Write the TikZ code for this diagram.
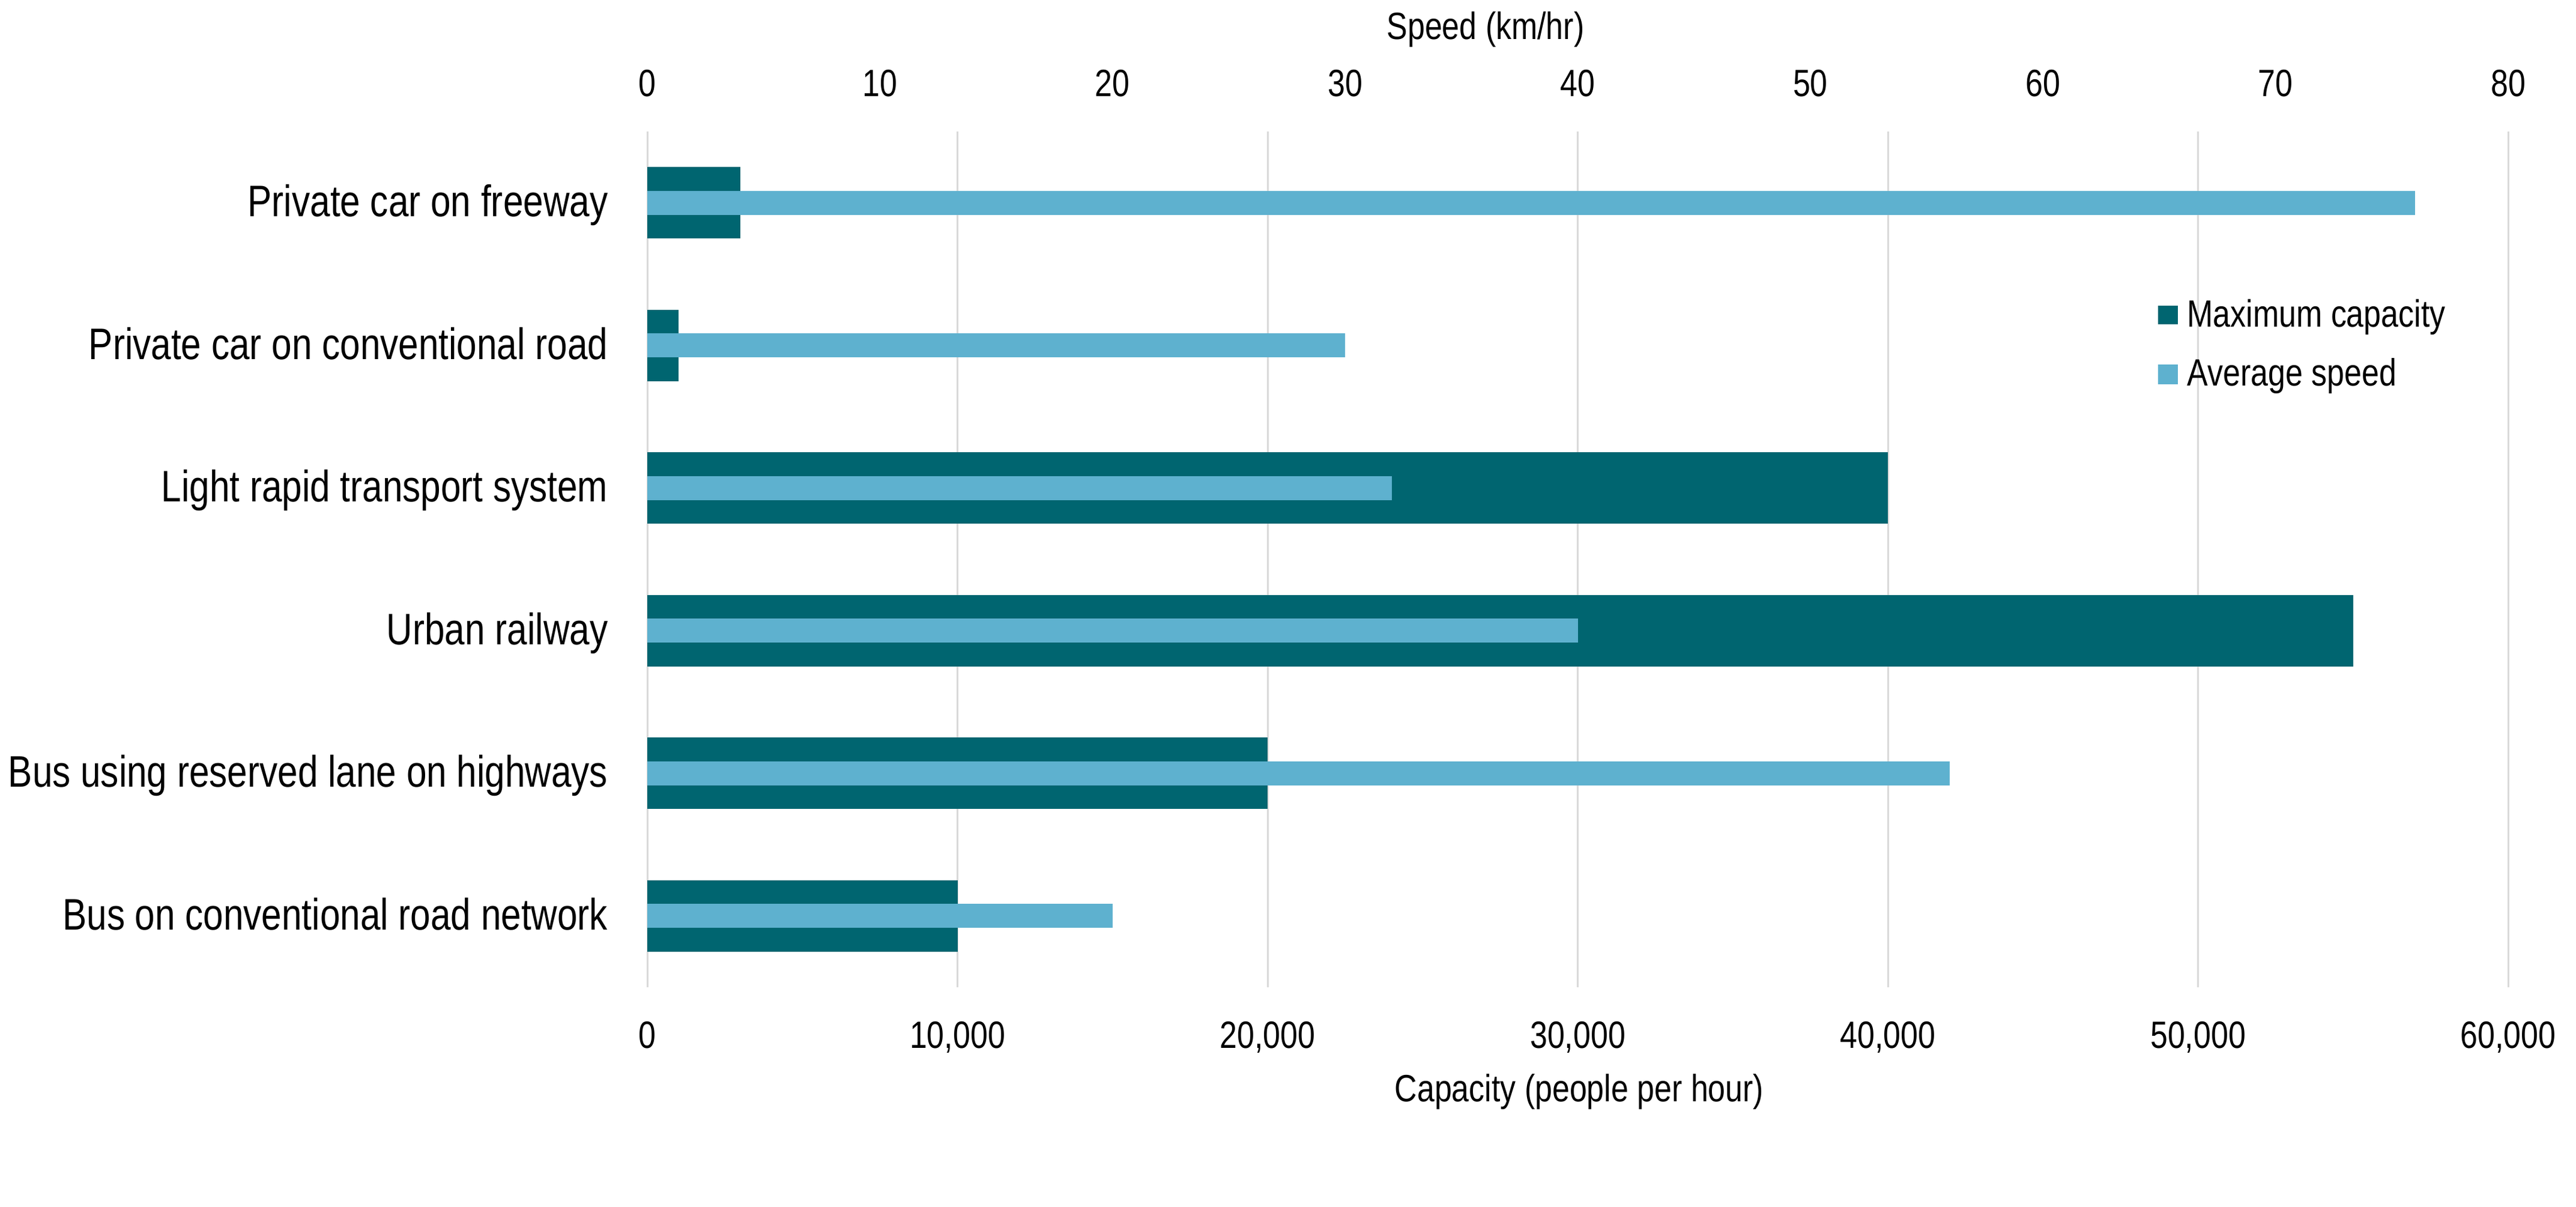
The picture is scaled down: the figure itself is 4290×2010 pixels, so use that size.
\documentclass[tikz,border=0pt]{standalone}
\usepackage{fontspec}
\setmainfont{Liberation Sans}[FakeStretch=0.82]
\definecolor{capteal}{HTML}{006570}
\definecolor{spdblue}{HTML}{5EB1CF}
\definecolor{gridgray}{HTML}{D9D9D9}
\tikzset{
	gridline/.style={draw=gridgray, line width=0.85pt},
	catlabel/.style={anchor=base east, inner sep=0pt, font=\fontsize{20.9}{24}\selectfont},
	ticklabel/.style={anchor=base, inner sep=0pt, font=\fontsize{18}{21}\selectfont},
	keylabel/.style={anchor=base west, inner sep=0pt, font=\fontsize{18}{21}\selectfont},
}
\begin{document}
\begin{tikzpicture}[x=0.01cm, y=-0.01cm]
		\useasboundingbox[fill=white] (0,0) rectangle (4290,2010);

		% grid and capacity axis
		\foreach \k/\txt in {0/0, 1/{10,000}, 2/{20,000}, 3/{30,000}, 4/{40,000}, 5/{50,000}, 6/{60,000}}{
			\draw[gridline] ({1078+516.5*\k},219) -- ({1078+516.5*\k},1644);
			\node[ticklabel] (cap\k) at ({1078+516.5*\k},1745) {\txt};
		}
		% speed axis
		\foreach \k in {0,...,8}{
			\node[ticklabel] (spd\k) at ({1078+387.375*\k},161) {\the\numexpr\k*10\relax};
		}
		\node[ticklabel] (spdtitle) at (2474,66) {Speed (km/hr)};
		\node[ticklabel] (captitle) at (2630,1834) {Capacity (people per hour)};

		% bars (capacity in thousands)
		\foreach \lbl/\cap/\spd [count=\i] in {Private car on freeway/3/76, Private car on conventional road/1/30, Light rapid transport system/40/32, Urban railway/55/40, Bus using reserved lane on highways/20/56, Bus on conventional road network/10/20}{
			\pgfmathsetmacro\yc{100.25+237.5*\i}
			\fill[capteal] (1078,{\yc-59.5}) rectangle ({1078+\cap*51.65},{\yc+59.5});
			\fill[spdblue] (1078,{\yc-20}) rectangle ({1078+\spd*38.7375},{\yc+20});
			\node[catlabel] (cat\i) at (1013,{\yc+23}) {\lbl};
		}

		% legend
		\fill[capteal] (3594,509) rectangle (3627,540);
		\node[keylabel] (keycap) at (3642,545) {Maximum capacity};
		\fill[spdblue] (3594,607) rectangle (3627,640);
		\node[keylabel] (keyspd) at (3642,643) {Average speed};
	\end{tikzpicture}
\end{document}
